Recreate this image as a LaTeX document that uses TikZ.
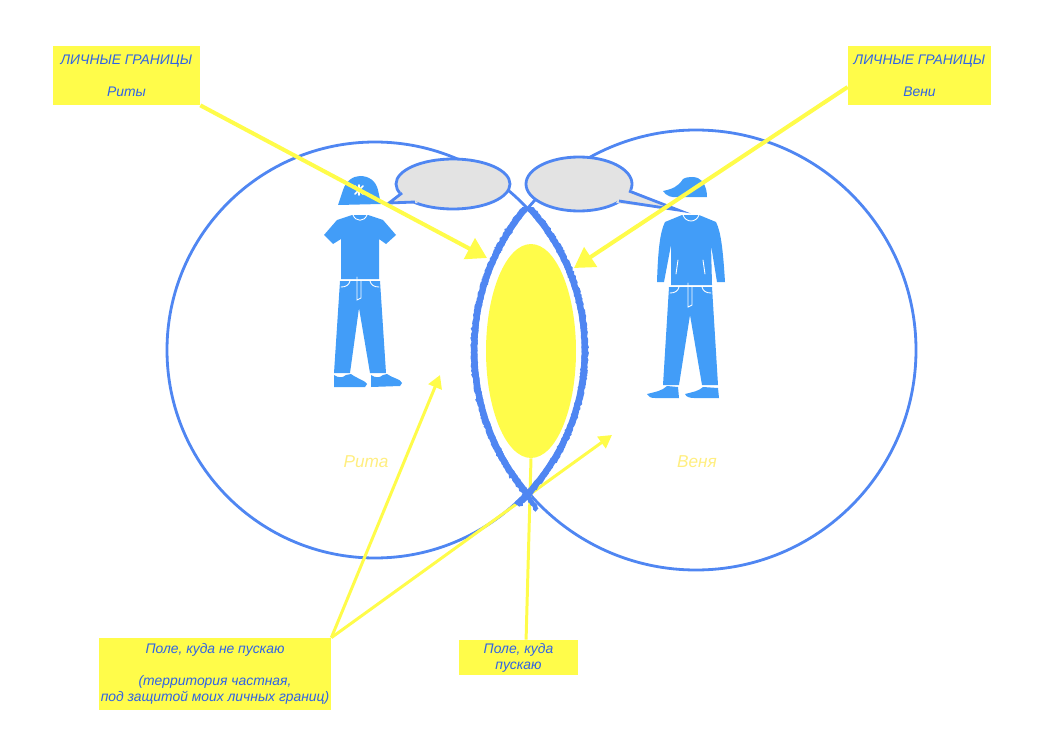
\documentclass[tikz,border=0pt]{standalone}
\usepackage{fontspec}
\setmainfont{Liberation Sans}
\usetikzlibrary{arrows.meta,decorations.pathmorphing,shapes.geometric}
\definecolor{ringblue}{HTML}{4F86F2}
\definecolor{figblue}{HTML}{429DF8}
\definecolor{inkblue}{HTML}{2F62E6}
\definecolor{noteyellow}{HTML}{FFFC4A}
\definecolor{nameyellow}{HTML}{FFEE80}
\definecolor{bubblegrey}{HTML}{E3E3E3}
\tikzset{
  ring/.style={draw=ringblue, line width=1.6pt},
  rough/.style={draw=ringblue, line width=3.6pt, decorate, decoration={random steps, segment length=0.9pt, amplitude=0.35pt}},
  bubble/.style={fill=bubblegrey, draw=ringblue, line width=1.6pt},
  note/.style={fill=noteyellow, text=inkblue, inner sep=0pt, align=center, font=\fontsize{7.9}{9.1}\selectfont\itshape, execute at begin node=\rule{0pt}{10.5pt}},
  nametext/.style={text=nameyellow, inner sep=0pt, font=\fontsize{9.8}{12}\selectfont\itshape},
  bigarrow/.style={noteyellow, line width=2.3pt, -{Triangle[length=0.4cm, width=0.46cm]}},
  thinarrow/.style={noteyellow, line width=1.7pt, -{Triangle[length=0.26cm, width=0.28cm]}},
  seam/.style={draw=white, line width=0.5pt, line cap=round}
}
\begin{document}
\begin{tikzpicture}[x=0.02cm, y=-0.02cm]
\useasboundingbox (0, 0) rectangle (1050, 733);
%Rings
\draw[ring] (375, 350) circle[radius=208];
\draw[ring] (696, 350) circle[radius=220];
%Rita
\fill[figblue] (338, 205) -- (343, 190) .. controls (346, 181) and (353, 176) .. (360, 176) .. controls (369, 176) and (376, 181) .. (378, 190) -- (381, 204) -- cycle;
\fill[figblue] (352, 215) -- (368, 215) -- (383, 220) -- (396, 235) -- (386, 244) -- (379, 239) -- (379, 279) -- (341, 279) -- (341, 239) -- (333, 244) -- (324, 235) -- (337, 220) -- cycle;
\fill[figblue] (340, 281) -- (380, 281) -- (386, 373) -- (370, 373) -- (359, 308) -- (350, 373) -- (334, 373) -- cycle;
\fill[figblue] (334, 387) -- (334, 375) .. controls (338, 378) and (343, 378) .. (346, 375) -- (351, 374) .. controls (356, 378) and (366, 381) .. (367, 384) -- (365, 387) -- cycle;
\fill[figblue] (371, 387) -- (371, 375) .. controls (375, 378) and (380, 378) .. (383, 375) -- (387, 374) .. controls (392, 378) and (401, 379) .. (402, 383) -- (400, 386) -- cycle;
\draw[seam] (353, 215) .. controls (356, 222) and (364, 222) .. (367, 215);
\draw[seam] (341, 287) .. controls (346, 287) and (349, 285) .. (350, 281);
\draw[seam] (379, 287) .. controls (374, 287) and (371, 285) .. (370, 281);
\draw[seam] (357, 277) -- (357, 300) -- (361, 298) -- (361, 281);
\draw[seam, line width=1pt] (355, 186) -- (363, 194) (363, 186) -- (355, 194) (359, 185) -- (359, 195);
%Venya
\fill[figblue] (663, 191) .. controls (672, 189) and (678, 187) .. (683, 179) .. controls (688, 176) and (698, 176) .. (702, 181) .. controls (706, 186) and (707, 192) .. (707, 197) -- (678, 197) .. controls (672, 198) and (666, 196) .. (663, 191) -- cycle;
\fill[figblue] (682, 215) -- (699, 215) -- (716, 222) .. controls (721, 232) and (723, 250) .. (725, 282) -- (717, 282) -- (711, 245) -- (712, 285) -- (671, 285) -- (671, 245) -- (664, 282) -- (657, 282) .. controls (658, 250) and (660, 232) .. (665, 222) -- cycle;
\fill[figblue] (669, 287) -- (712, 287) -- (718, 385) -- (702, 385) -- (690, 315) -- (679, 385) -- (663, 385) -- cycle;
\fill[figblue] (647, 394) .. controls (655, 392) and (662, 391) .. (667, 386) -- (678, 387) -- (679, 398) -- (655, 398) .. controls (651, 398) and (648, 397) .. (647, 394) -- cycle;
\fill[figblue] (685, 394) .. controls (693, 392) and (699, 391) .. (703, 387) -- (718, 388) -- (719, 398) -- (694, 398) .. controls (690, 398) and (686, 397) .. (685, 394) -- cycle;
\draw[seam] (683, 215) .. controls (686, 223) and (696, 223) .. (699, 215);
\draw[seam] (670, 293) .. controls (675, 293) and (678, 291) .. (679, 287);
\draw[seam] (711, 293) .. controls (706, 293) and (703, 291) .. (702, 287);
\draw[seam] (688, 283) -- (688, 307) -- (692, 305) -- (692, 287);
\draw[seam] (678, 260) -- (676, 274);
\draw[seam] (703, 260) -- (705, 274);
%Speech bubbles
\filldraw[bubble] (453, 184) ellipse[x radius=57, y radius=25];
\fill[bubblegrey] (403, 190) -- (389, 203) -- (418, 203) -- cycle;
\draw[ring] (402, 193) -- (389, 203) -- (415, 202);
\filldraw[bubble] (579, 184) ellipse[x radius=53, y radius=27];
\fill[bubblegrey] (626, 188) -- (678, 210) -- (616, 203) -- cycle;
\draw[ring] (629, 191) -- (678, 210) -- (619, 201);
%Notes
\node[note, minimum width=2.94cm, minimum height=1.18cm] (ritaNote) at (126.5, 75.5) {ЛИЧНЫЕ ГРАНИЦЫ\\[9pt]Риты};
\node[note, minimum width=2.86cm, minimum height=1.18cm] (venyaNote) at (919.5, 75.5) {ЛИЧНЫЕ ГРАНИЦЫ\\[9pt]Вени};
\node[note, minimum width=4.64cm, minimum height=1.44cm] (closedNote) at (215, 674) {Поле, куда не пускаю\\[9pt](территория частная,\\под защитой моих личных границ)};
\node[note, minimum width=2.38cm, minimum height=0.7cm] (openNote) at (518.5, 657.5) {Поле, куда\\пускаю};
%Shared field
\node[ellipse, fill=noteyellow, inner sep=0pt, minimum width=1.8cm, minimum height=4.28cm] (openField) at (531, 351) {};
\node[nametext] (ritaName) at (366, 462) {Рита};
\node[nametext] (venyaName) at (697, 462) {Веня};
%Arrows
\coordinate (ritaEdge) at (487, 258);
\coordinate (venyaEdge) at (574, 268);
\coordinate (ritaField) at (440, 375);
\coordinate (venyaField) at (612, 435);
\coordinate (crossTail) at (517, 505);
\coordinate (crossFoot) at (537, 510);
\coordinate (crossMid) at (527, 495);
\draw[bigarrow] (ritaNote.south east) -- (ritaEdge);
\draw[bigarrow] (venyaNote.south west |- 0, 87) -- (venyaEdge);
\draw[thinarrow] (closedNote.north east) -- (ritaField);
\draw[thinarrow] (closedNote.north east) -- (venyaField);
\draw[noteyellow, line width=1.7pt] (openField.south) -- (openNote.67);
%Boundary
\begin{scope}
\clip (400, 207) rectangle (650, 560);
\clip (696, 350) circle[radius=226];
\draw[rough] (375, 350) circle[radius=210];
\end{scope}
\begin{scope}
\clip (400, 207) rectangle (650, 560);
\clip (375, 350) circle[radius=214];
\draw[rough] (696, 350) circle[radius=222];
\end{scope}
\draw[rough] (crossMid) -- (crossTail);
\draw[rough, line width=2.6pt] (crossMid) -- (crossFoot);
\end{tikzpicture}
\end{document}
